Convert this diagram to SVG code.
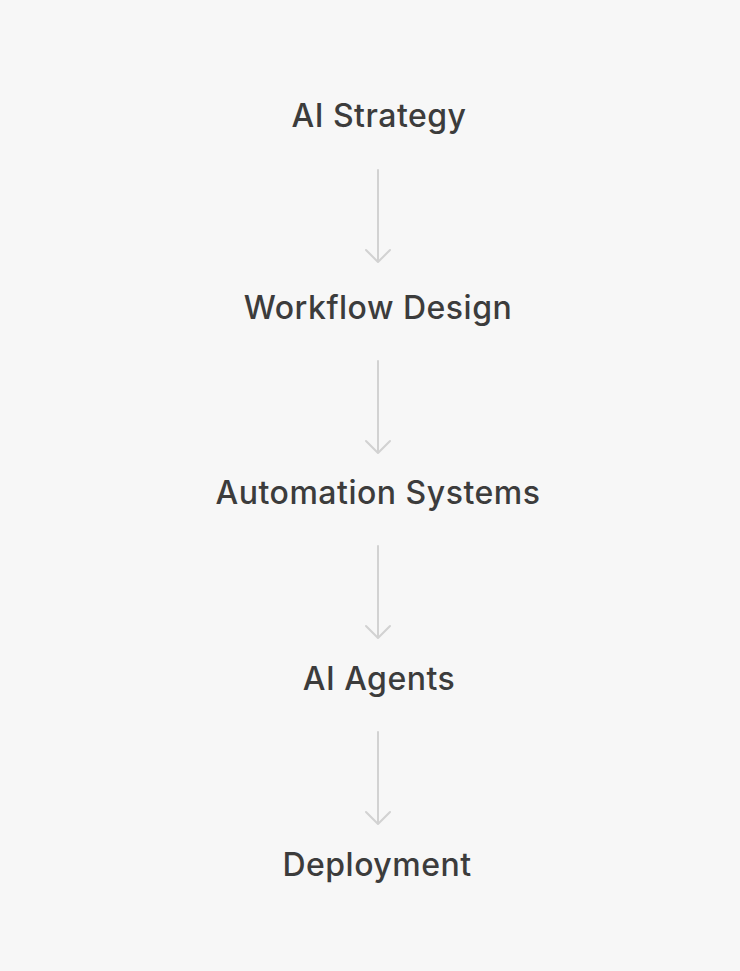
<svg xmlns="http://www.w3.org/2000/svg" width="740" height="971" viewBox="0 0 740 971">
<style>
.lbl{font-family:Inter,"Noto Sans",sans-serif;font-weight:500;font-size:32px;fill:#3c3c3c;text-anchor:middle;letter-spacing:0.5px}
.edge{stroke:#d2d2d2;stroke-width:2;fill:none;stroke-linecap:round;stroke-linejoin:round}
</style>
<rect width="740" height="971" fill="#f7f7f7"/>
<g id="connectors">
<path class="edge" d="M378 170V261M366 250L378 262L390 250"/>
<path class="edge" d="M378 361V452M366 441L378 453L390 441"/>
<path class="edge" d="M378 546V637M366 626L378 638L390 626"/>
<path class="edge" d="M378 732V823M366 812L378 824L390 812"/>
</g>
<g id="n1"><text class="lbl" x="379" y="127">AI Strategy</text></g>
<g id="n2"><text class="lbl" x="378" y="319">Workflow Design</text></g>
<g id="n3"><text class="lbl" x="378" y="504">Automation Systems</text></g>
<g id="n4"><text class="lbl" x="379" y="690">AI Agents</text></g>
<g id="n5"><text class="lbl" x="377" y="876">Deployment</text></g>
</svg>
